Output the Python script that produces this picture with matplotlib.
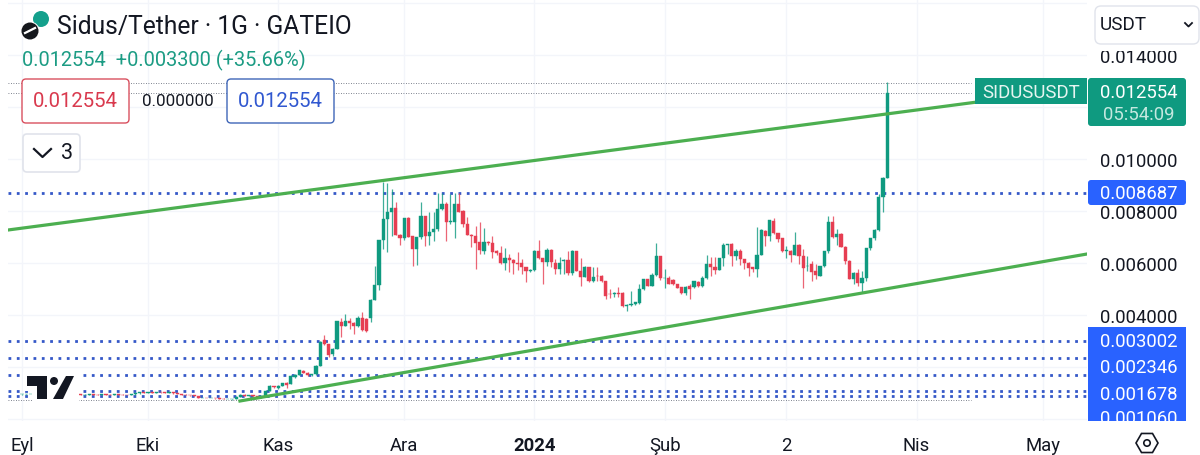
"""
Sidus/Tether daily chart, rebuilt from a TradingView screenshot.
Prices are kept in millionths of USDT, day 0 is 1 September.
"""
import numpy as np
import matplotlib
matplotlib.use("Agg")
import matplotlib.pyplot as plt
from matplotlib.patches import FancyBboxPatch, Rectangle, Circle, Polygon, RegularPolygon

GREEN = "#0f9a80"; RED = "#e63e52"; TREND = "#4caf50"
BLUE = "#2962ff"; DOTS = "#3558c8"; INK = "#131722"; GRID = "#f3f5fa"

plt.rcParams["font.family"] = ["Roboto", "DejaVu Sans"]

opens = [
    945, 950, 950, 960, 945, 955, 950, 940, 950, 955,
    945, 950, 945, 950, 945, 935, 940, 945, 940, 935,
    945, 940, 935, 945, 940, 935, 930, 945, 985, 1020,
    1005, 1030, 1015, 1035, 1025, 1010, 1025, 990, 960, 940,
    925, 905, 880, 805, 815, 800, 805, 790, 785, 760,
    765, 770, 860, 940, 900, 905, 880, 840, 890, 1090,
    1256, 1210, 1260, 1370, 1346, 1603, 1705, 1859, 1769, 1705,
    1731, 2051, 3051, 2885, 2500, 2692, 3743, 3590, 3782, 3692,
    3564, 3884, 3846, 3884, 4589, 5154, 6897, 7692, 7974, 8102,
    7077, 6962, 7730, 7025, 6538, 6987, 7794, 7051, 7179, 7307,
    8077, 8269, 7564, 7590, 8269, 8012, 7500, 7090, 7025, 6795,
    6474, 6795, 6756, 6474, 6384, 6000, 6192, 6128, 6000, 6000,
    5833, 5680, 5730, 6474, 6179, 6026, 6500, 6000, 5769, 6064,
    6128, 5615, 6449, 5705, 5474, 5833, 5295, 5513, 5513, 5295,
    4808, 4800, 4830, 4859, 4359, 4397, 4423, 4449, 5000, 5385,
    5128, 5538, 6256, 5410, 5410, 5359, 5192, 5064, 4846, 5128,
    5064, 5256, 5102, 5423, 5961, 5859, 5743, 6192, 6692, 6730,
    6256, 6474, 6154, 6000, 5833, 5769, 6320, 7243, 7025, 7628,
    7141, 6948, 6474, 6474, 6307, 6692, 6256, 5880, 5961, 5705,
    5513, 5872, 6448, 7590, 6987, 7115, 6628, 6089, 5384, 5600,
    5218, 5410, 6576, 6961, 7269, 8551, 9254,
]
highs = [
    960, 960, 970, 965, 960, 965, 955, 955, 965, 960,
    955, 955, 955, 955, 950, 945, 950, 950, 945, 950,
    950, 945, 950, 950, 945, 940, 950, 990, 1030, 1030,
    1040, 1040, 1045, 1045, 1035, 1035, 1035, 1000, 970, 950,
    935, 915, 890, 820, 825, 815, 815, 800, 795, 775,
    780, 870, 960, 960, 930, 930, 900, 900, 1110, 1300,
    1280, 1290, 1400, 1420, 1700, 1720, 1900, 1880, 1790, 1740,
    2080, 3000, 3231, 2900, 2730, 3780, 3885, 4038, 3885, 3720,
    3960, 4128, 3870, 4620, 5897, 6897, 9102, 9077, 8846, 8333,
    7100, 7730, 7760, 7040, 6987, 8333, 7810, 7950, 7950, 8692,
    8692, 8360, 8650, 8692, 8692, 8030, 7760, 7120, 7436, 7564,
    7333, 6840, 7051, 6500, 6667, 6564, 6346, 6140, 6436, 6154,
    5850, 5760, 6500, 6897, 6200, 6564, 6520, 6154, 6218, 6154,
    6474, 6513, 6470, 6192, 5872, 5850, 5833, 5833, 5530, 5310,
    4990, 4870, 5090, 4870, 4420, 4910, 4500, 5192, 5400, 5400,
    5615, 6769, 6270, 5769, 5487, 5380, 5210, 5090, 5100, 5180,
    5320, 5300, 5513, 6307, 6218, 6218, 6210, 6770, 6750, 6760,
    6530, 6540, 6170, 6030, 5850, 7371, 7290, 7260, 7670, 7730,
    7160, 6970, 6667, 6490, 7179, 6720, 6538, 6280, 6090, 5960,
    5890, 6460, 7820, 7800, 7300, 7140, 6650, 6110, 5640, 5770,
    5705, 6590, 6980, 7290, 8640, 9320, 12950,
]
lows = [
    935, 940, 945, 935, 940, 945, 930, 935, 945, 935,
    935, 935, 935, 935, 925, 925, 930, 930, 925, 930,
    930, 925, 925, 930, 925, 920, 920, 935, 975, 995,
    995, 1005, 1005, 1015, 1000, 1000, 980, 960, 930, 915,
    895, 870, 795, 795, 790, 790, 780, 775, 750, 750,
    740, 760, 840, 880, 880, 860, 820, 820, 880, 1080,
    1200, 1170, 1250, 1210, 1330, 1590, 1690, 1750, 1670, 1670,
    1700, 2030, 2860, 2372, 2440, 2680, 3141, 3580, 3461, 3269,
    3540, 3390, 3360, 3720, 4570, 4950, 6538, 6410, 7051, 7077,
    6692, 6900, 6987, 5897, 5923, 6923, 6641, 6692, 6860, 7240,
    8050, 6859, 7500, 6949, 7950, 7370, 7060, 6603, 5769, 6346,
    6346, 6700, 6180, 6300, 5980, 5744, 5641, 5577, 5744, 5577,
    5256, 5650, 5705, 6170, 5192, 5872, 5833, 5577, 5577, 5577,
    5538, 5538, 5700, 5128, 5449, 5280, 5280, 5320, 5280, 4615,
    4641, 4700, 4680, 4310, 4167, 4360, 4400, 4430, 4980, 5110,
    5110, 5487, 5360, 5026, 5180, 5170, 5020, 4820, 4780, 4615,
    5040, 5090, 5080, 5400, 5500, 5590, 5720, 5900, 6346, 5897,
    6100, 5920, 5770, 5487, 5640, 5449, 6300, 6641, 6860, 7100,
    6795, 6410, 6180, 6026, 6290, 5960, 5025, 5700, 5320, 5380,
    5490, 5850, 6400, 6970, 6680, 6600, 5960, 5370, 5180, 5130,
    4846, 5300, 6500, 6900, 7240, 7948, 9254,
]
closes = [
    950, 950, 960, 945, 955, 950, 940, 950, 955, 945,
    950, 945, 950, 945, 935, 940, 945, 940, 935, 945,
    940, 935, 945, 940, 935, 930, 945, 985, 1020, 1005,
    1030, 1015, 1035, 1025, 1010, 1025, 990, 960, 940, 925,
    905, 880, 805, 815, 800, 805, 790, 785, 760, 765,
    770, 860, 940, 900, 905, 880, 840, 890, 1090, 1256,
    1230, 1270, 1370, 1300, 1667, 1692, 1885, 1769, 1705, 1731,
    2051, 2974, 2885, 2474, 2692, 3756, 3590, 3782, 3692, 3564,
    3884, 3423, 3397, 4589, 5154, 6897, 7692, 7974, 8102, 7077,
    6962, 7730, 6987, 6538, 6987, 7794, 7051, 7179, 7307, 8077,
    8269, 7564, 7628, 8269, 7974, 7500, 7090, 7051, 6769, 6500,
    6795, 6770, 6436, 6384, 6000, 6192, 6128, 6000, 5961, 5833,
    5705, 5730, 6474, 6179, 6026, 6500, 6026, 5769, 6000, 6115,
    5615, 6449, 5705, 5474, 5833, 5295, 5474, 5490, 5295, 4743,
    4800, 4830, 4820, 4333, 4397, 4420, 4487, 5000, 5385, 5128,
    5538, 6256, 5410, 5436, 5192, 5192, 5038, 4846, 5064, 5000,
    5295, 5102, 5423, 5961, 5859, 5743, 6192, 6692, 6730, 6256,
    6474, 6154, 6000, 5807, 5769, 6320, 7269, 7025, 7654, 7141,
    6923, 6474, 6490, 6307, 6692, 6256, 5807, 5900, 5641, 5538,
    5872, 6448, 7564, 6987, 7115, 6628, 6089, 5384, 5600, 5218,
    5410, 6576, 6961, 7269, 8551, 9254, 12554,
]

level_prices = [8687, 3002, 2346, 1678, 1060, 900]
range_prices = [12923, 12554, 735]
upper_days = [-3.33, 253.57]; upper_prices = [7269, 12750]
lower_days = [51.9, 253.57]; lower_prices = [692, 6346]

month_days = [0, 30, 61, 91, 122, 153, 182, 213, 243]
month_labels = ["Eyl", "Eki", "Kas", "Ara", "2024", "Şub", "2", "Nis", "May"]
price_ticks = [0, 2000, 4000, 6000, 8000, 10000, 12000, 14000, 16000]
price_labels = ["", "", "0.004000", "0.006000", "0.008000", "0.010000", "", "0.014000", ""]

days = np.arange(len(closes))
o, h, l, c = map(np.array, (opens, highs, lows, closes))
colors = np.where(c >= o, GREEN, RED)

fig = plt.figure(figsize=(12, 4.56), dpi=100, facecolor="white")
ax = fig.add_axes([8 / 1200, 34 / 456, 1079 / 1200, 422 / 456])
ax.set_xlim(-3.33, 253.57)
ax.set_ylim(-77, 16154)
for s in ax.spines.values():
    s.set_visible(False)
ax.set_axisbelow(True)
ax.grid(True, color=GRID, linewidth=1.0)
ax.set_xticks(month_days)
ax.set_xticklabels(month_labels)
ax.set_yticks(price_ticks)
ax.set_yticklabels(price_labels)
ax.yaxis.tick_right()
ax.tick_params(axis="both", length=0, labelsize=13.3, labelcolor=INK)
ax.tick_params(axis="x", pad=10.5)
ax.tick_params(axis="y", pad=9.5)
ax.get_xticklabels()[4].set_fontweight("bold")

# price levels and the high / last / low markers
for p in level_prices:
    ax.axhline(p, color=DOTS, linewidth=2.0, linestyle=(0, (1, 2)), zorder=2)
for p in range_prices:
    ax.plot([-3.33, 226], [p, p], color="#555b6b", linewidth=0.6, linestyle=(0, (1, 2)), zorder=2)

# candles
ax.vlines(days, l, h, colors=colors, linewidth=0.9, alpha=0.8, zorder=3)
ax.bar(days, c - o, bottom=o, width=0.8, color=colors, edgecolor=colors, linewidth=0.3, zorder=4)

# channel lines
ax.plot(upper_days, upper_prices, color=TREND, linewidth=2.3, zorder=5)
ax.plot(lower_days, lower_prices, color=TREND, linewidth=2.3, zorder=5)

# interface layer, in screen pixels
ui = fig.add_axes([0, 0, 1, 1], facecolor="none")
ui.set_xlim(0, 1200); ui.set_ylim(456, 0)
ui.axis("off")


def box(x, y, w, h, face="white", edge="none", lw=1.0, r=4, z=6):
    ui.add_patch(FancyBboxPatch((x + r, y + r), w - 2 * r, h - 2 * r,
                                boxstyle=f"round,pad={r},rounding_size={r}",
                                facecolor=face, edgecolor=edge, linewidth=lw, zorder=z))


# TradingView mark with its white backing
ui.add_patch(Rectangle((23, 373), 56, 19, facecolor="white", zorder=6))
ui.add_patch(Rectangle((33, 392), 46, 11, facecolor="white", zorder=6))
ui.add_patch(Polygon([(27, 377), (47, 377), (47, 400), (37, 400), (37, 387), (27, 387)],
                     facecolor=INK, zorder=7))
ui.add_patch(Circle((54, 382), 4, facecolor=INK, zorder=7))
ui.add_patch(Polygon([(66, 377), (74, 377), (63, 400), (53, 400)], facecolor=INK, zorder=7))

# header
ui.add_patch(Circle((41, 20), 8, facecolor="#14a08c", zorder=7))
ui.add_patch(Circle((30, 32), 9.5, facecolor="white", zorder=7))
ui.add_patch(Circle((30, 32), 8.5, facecolor="#14171c", zorder=8))
ui.plot([25, 35], [34, 29], color="white", linewidth=1.6, zorder=9)
ui.text(57, 27, "Sidus/Tether · 1G · GATEIO", fontsize=17.75, color=INK, va="center", zorder=7)
ui.text(22, 60, "0.012554  +0.003300 (+35.66%)", fontsize=14.4, color="#1c9c84", va="center", zorder=7)

# order boxes
box(22, 80, 107, 44, edge="#d9505f", lw=1.0)
ui.text(75.5, 102, "0.012554", fontsize=14.7, color="#d93a4e", ha="center", va="center", zorder=7)
ui.text(178, 102, "0.000000", fontsize=12.2, color=INK, ha="center", va="center", zorder=7)
box(227, 80, 107, 44, edge="#3f66b8", lw=1.0)
ui.text(280.5, 102, "0.012554", fontsize=14.7, color="#3158d0", ha="center", va="center", zorder=7)
box(23, 135, 57, 38, edge="#e0e3eb", lw=1.2)
ui.plot([34, 42.5, 51], [150, 158, 150], color=INK, linewidth=1.6, zorder=7)
ui.text(67, 154, "3", fontsize=15.5, color=INK, ha="center", va="center", zorder=7)

# symbol and last price tags
ui.add_patch(Rectangle((975, 79), 112, 26, facecolor=GREEN, zorder=6))
ui.text(1031, 93, "SIDUSUSDT", fontsize=13.4, color="#e6f5f1", ha="center", va="center", zorder=7)
box(1088, 79, 98, 48, face=GREEN, r=3)
ui.text(1139, 93, "0.012554", fontsize=13.3, color="white", ha="center", va="center", zorder=7)
ui.text(1139, 115, "05:54:09", fontsize=13.3, color="#c4e8df", ha="center", va="center", zorder=7)

# level tags
box(1088, 181, 98, 25, face=BLUE, r=3)
ui.text(1139, 194, "0.008687", fontsize=13.3, color="white", ha="center", va="center", zorder=7)
ui.add_patch(Rectangle((1088, 328), 98, 96, facecolor=BLUE, zorder=6))
for y, txt in zip([342, 368, 395, 419], ["0.003002", "0.002346", "0.001678", "0.001060"]):
    ui.text(1139, y, txt, fontsize=13.3, color="white", ha="center", va="center", zorder=7)
ui.add_patch(Rectangle((1088, 422), 112, 34, facecolor="white", zorder=8))

# currency selector hides the top of the 0.014000 label
ui.add_patch(Rectangle((1090, 0), 110, 52, facecolor="white", zorder=6))
box(1095, 7, 104, 38, edge="#e0e3eb", lw=1.0, r=6, z=7)
ui.text(1100, 25, "USDT", fontsize=13.6, color=INK, va="center", zorder=8)
ui.plot([1185, 1188.5, 1192], [24, 27.5, 24], color=INK, linewidth=1.3, zorder=8)

# settings icon
ui.add_patch(RegularPolygon((1147, 444), 6, radius=11, orientation=np.pi / 6,
                            facecolor="none", edgecolor=INK, linewidth=1.2, zorder=9))
ui.add_patch(Circle((1147, 444), 3.2, facecolor="none", edgecolor=INK, linewidth=1.2, zorder=9))

fig.savefig("out.png", dpi=100, facecolor="white")
